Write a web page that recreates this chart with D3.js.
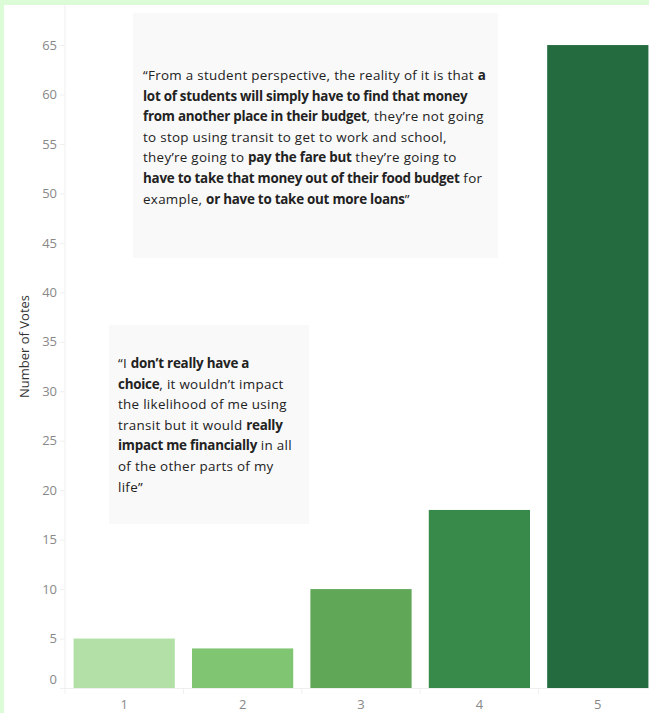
<!DOCTYPE html>
<html>
<head>
<meta charset="utf-8">
<script src="https://cdn.jsdelivr.net/npm/d3@7"></script>
<style>
  html, body { margin: 0; padding: 0; background: #dcfcd8; }
  svg { display: block; }
</style>
</head>
<body>
<svg id="chart" width="649" height="713"></svg>
<script>
// Votes per rating (1–5)
const categories = ["1", "2", "3", "4", "5"];
const votes = [5, 4, 10, 18, 65];
const barColors = ["#b3e0a6", "#80c571", "#60a857", "#388a4a", "#246b3f"];
const yTicks = [0, 5, 10, 15, 20, 25, 30, 35, 40, 45, 50, 55, 60, 65];

// Quote annotations: each line is a list of [text, bold] runs
const quoteOne = [
  [["\u201CFrom a student perspective, the reality of it is that ", false], ["a", true]],
  [["lot of students will simply have to find that money", true]],
  [["from another place in their budget", true], [", they\u2019re not going", false]],
  [["to stop using transit to get to work and school,", false]],
  [["they\u2019re going to ", false], ["pay the fare but", true], [" they\u2019re going to", false]],
  [["have to take that money out of their food budget", true], [" for", false]],
  [["example, ", false], ["or have to take out more loans", true], ["\u201D", false]]
];
const quoteTwo = [
  [["\u201CI ", false], ["don\u2019t really have a", true]],
  [["choice", true], [", it wouldn\u2019t impact", false]],
  [["the likelihood of me using", false]],
  [["transit but it would ", false], ["really", true]],
  [["impact me financially", true], [" in all", false]],
  [["of the other parts of my", false]],
  [["life\u201D", false]]
];

const W = 649, H = 713;
const svg = d3.select("#chart");
const font = "'Open Sans', 'Noto Sans', sans-serif";

// white sheet inside the green frame
svg.append("rect").attr("x", 4).attr("y", 5).attr("width", W - 4).attr("height", H - 5).attr("fill", "#ffffff");

const plot = { left: 65, top: 5, right: 657, bottom: 688 };

const x = d3.scaleBand().domain(categories).range([plot.left, plot.right]).paddingInner(0.145).paddingOuter(0.0725);
const y = d3.scaleLinear().domain([0, 69.05]).range([plot.bottom, plot.top]);

// quote boxes
function drawQuote(lines, box) {
  svg.append("rect")
    .attr("x", box.x).attr("y", box.y).attr("width", box.w).attr("height", box.h)
    .attr("fill", "#f9f9f9");
  const t = svg.append("text")
    .attr("font-family", font).attr("font-size", 13.4).attr("fill", "#222");
  lines.forEach((runs, i) => {
    runs.forEach(([s, b], j) => {
      const ts = t.append("tspan").text(s)
        .attr("font-weight", b ? 700 : 400)
        .attr("letter-spacing", b ? "-0.25px" : "0.3px");
      if (j === 0) ts.attr("x", box.tx).attr("y", box.ty + i * box.lh);
    });
  });
}

// axes lines
svg.append("line").attr("x1", plot.left).attr("x2", plot.left).attr("y1", plot.top).attr("y2", plot.bottom)
  .attr("stroke", "#efefef").attr("stroke-width", 1);

// y axis ticks and labels
const yAxis = svg.append("g").attr("transform", `translate(${plot.left},0)`)
  .call(d3.axisLeft(y).tickValues(yTicks).tickSize(5).tickPadding(3));
yAxis.select(".domain").remove();
yAxis.selectAll(".tick line").attr("stroke", "#efefef");
yAxis.selectAll(".tick text")
  .attr("font-family", font).attr("font-size", 13).attr("fill", "#888")
  .attr("dy", d => d === 0 ? "-0.35em" : "0.32em");

svg.append("text")
  .attr("transform", `translate(29,${(plot.top + plot.bottom) / 2}) rotate(-90)`)
  .attr("text-anchor", "middle")
  .attr("font-family", font).attr("font-size", 13).attr("fill", "#333")
  .text("Number of Votes");

drawQuote(quoteOne, { x: 133, y: 13, w: 365, h: 245, tx: 143, ty: 80, lh: 20.6 });
drawQuote(quoteTwo, { x: 109, y: 325, w: 200, h: 199, tx: 118, ty: 368, lh: 20.6 });

// bars
svg.append("g").selectAll("rect").data(categories).join("rect")
  .attr("x", d => x(d))
  .attr("width", x.bandwidth())
  .attr("y", (d, i) => y(votes[i]))
  .attr("height", (d, i) => y(0) - y(votes[i]))
  .attr("fill", (d, i) => barColors[i]);

// x axis
svg.append("line").attr("x1", 60).attr("x2", W).attr("y1", plot.bottom + 0.5).attr("y2", plot.bottom + 0.5)
  .attr("stroke", "#efefef");
const step = x.step();
svg.append("g").selectAll("line").data(categories).join("line")
  .attr("x1", d => x(d) - (step - x.bandwidth()) / 2)
  .attr("x2", d => x(d) - (step - x.bandwidth()) / 2)
  .attr("y1", plot.bottom).attr("y2", plot.bottom + 6)
  .attr("stroke", "#efefef");
svg.append("g").selectAll("text").data(categories).join("text")
  .attr("x", d => x(d) + x.bandwidth() / 2)
  .attr("y", plot.bottom + 21)
  .attr("text-anchor", "middle")
  .attr("font-family", font).attr("font-size", 13).attr("fill", "#888")
  .text(d => d);
</script>
</body>
</html>
